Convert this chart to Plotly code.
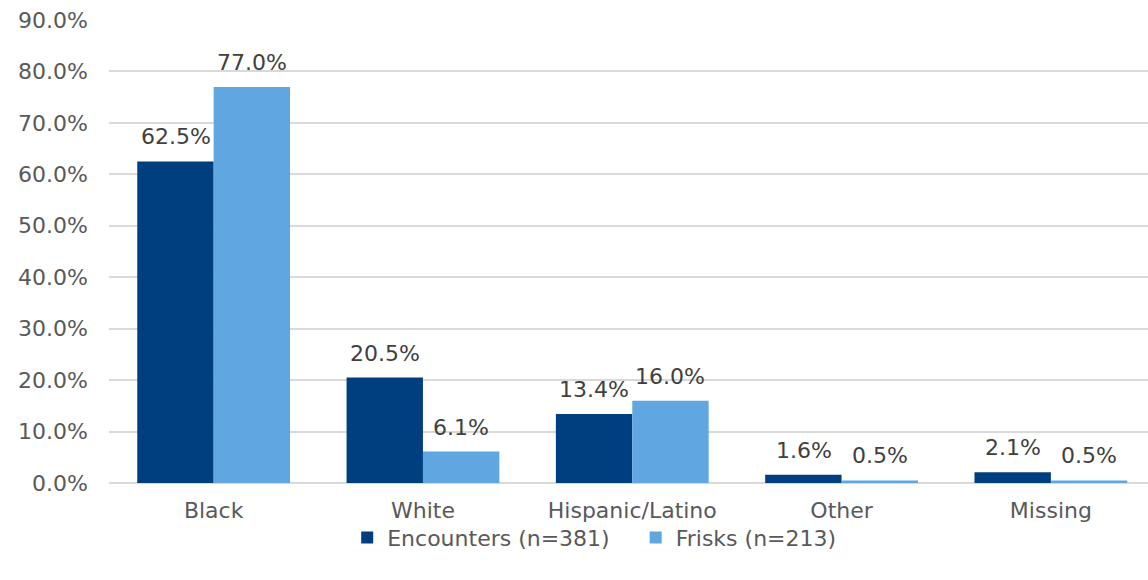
import plotly.graph_objects as go

categories = ["Black", "White", "Hispanic/Latino", "Other", "Missing"]
encounters = [62.5, 20.5, 13.4, 1.6, 2.1]
frisks = [77.0, 6.1, 16.0, 0.5, 0.5]
series_names = ["Encounters (n=381)\u00a0\u00a0\u00a0", "Frisks (n=213)"]
y_ticks = [0, 10, 20, 30, 40, 50, 60, 70, 80, 90]

FONT = "DejaVu Sans, sans-serif"
TXT = "#595959"
COLORS = ["#003F7F", "#60A7E2"]
FS = 22

fig = go.Figure()
for name, vals, col in zip(series_names, [encounters, frisks], COLORS):
    fig.add_trace(go.Bar(
        x=categories, y=vals, name=name,
        marker=dict(color=col, line=dict(width=0)),
    ))

# data labels
for vals, shift in zip([encounters, frisks], [-38, 38]):
    for c, v in zip(categories, vals):
        fig.add_annotation(x=c, y=v, text=f"{v:.1f}%", showarrow=False,
                           xshift=shift, yshift=10, yanchor="bottom",
                           font=dict(size=FS, color="#404040", family=FONT))

fig.update_layout(
    width=1148, height=580,
    margin=dict(l=109, r=0, t=20, b=97),
    paper_bgcolor="white", plot_bgcolor="white",
    barmode="group", bargap=0.27, bargroupgap=0,
    font=dict(family=FONT, size=FS, color=TXT),
    showlegend=True,
    legend=dict(orientation="h", x=0.467, xanchor="center",
                y=-0.118, yanchor="middle",
                bgcolor="rgba(0,0,0,0)",
                font=dict(size=FS, color=TXT), itemwidth=30, traceorder="normal"),
    xaxis=dict(range=[-0.5, 4.464], showgrid=False, showline=False, ticks="",
               ticklabelstandoff=12,
               tickfont=dict(size=FS, color=TXT)),
    yaxis=dict(range=[0, 90], tickvals=y_ticks,
               ticktext=[f"{v:.1f}%" for v in y_ticks],
               showgrid=True, gridcolor="#D9D9D9", gridwidth=1.5,
               zeroline=True, zerolinecolor="#D9D9D9", zerolinewidth=1.5,
               showline=False, ticks="", ticklen=0, ticklabelstandoff=20,
               tickfont=dict(size=FS, color=TXT)),
)

fig.write_html("out.html")
